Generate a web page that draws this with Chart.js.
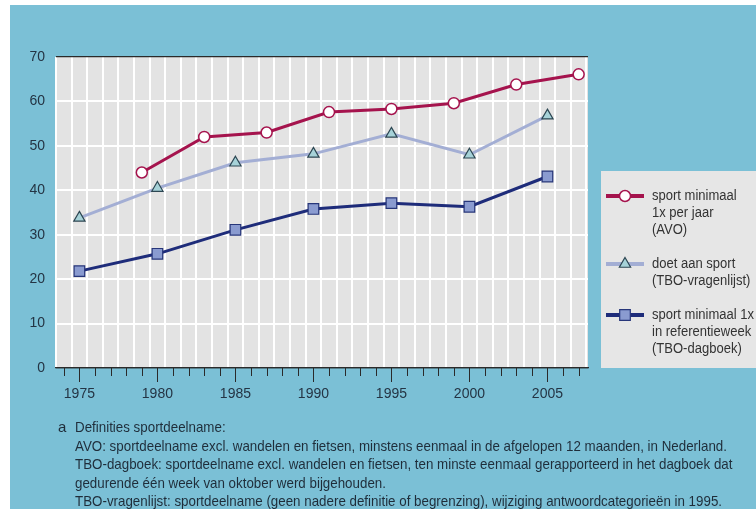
<!DOCTYPE html>
<html>
<head>
<meta charset="utf-8">
<script src="https://cdn.jsdelivr.net/npm/chart.js@4.4.1/dist/chart.umd.min.js"></script>
<style>
  body { margin: 0; background: #fff; width: 756px; height: 509px; overflow: hidden; position: relative;
         font-family: 'Liberation Sans', Arial, sans-serif; }
  #bg { position: absolute; left: 10px; top: 5px; right: 0; bottom: 0; background: #7bc0d6; }
  #chart { position: absolute; left: 0; top: 0; }
  #note { position: absolute; left: 0; top: 418px; font-size: 15px; line-height: 18.6px; color: #1f2d3a; }
  #note .a { position: absolute; left: 58px; top: 0; }
  #note .txt { position: absolute; left: 75px; top: 0; white-space: nowrap; transform-origin: 0 0; }
</style>
</head>
<body>
<div id="bg"></div>
<canvas id="chart" width="756" height="509"></canvas>
<div id="note">
  <span class="a">a</span>
  <div class="txt" id="noteText">
    Definities sportdeelname:<br>
    <span id="longLine">AVO: sportdeelname excl. wandelen en fietsen, minstens eenmaal in de afgelopen 12 maanden, in Nederland.</span><br>
    TBO-dagboek: sportdeelname excl. wandelen en fietsen, ten minste eenmaal gerapporteerd in het dagboek dat<br>
    gedurende één week van oktober werd bijgehouden.<br>
    TBO-vragenlijst: sportdeelname (geen nadere definitie of begrenzing), wijziging antwoordcategorieën in 1995.
  </div>
</div>
<script>
// Sportdeelname (in procenten)
const avoYears = [1979, 1983, 1987, 1991, 1995, 1999, 2003, 2007];
const avoValues = [44, 52, 53, 57.6, 58.3, 59.6, 63.8, 66.1];

const tboYears = [1975, 1980, 1985, 1990, 1995, 2000, 2005];
const vragenlijstValues = [33.8, 40.5, 46.2, 48.2, 52.7, 48, 56.8];
const dagboekValues = [21.8, 25.7, 31.1, 35.8, 37.1, 36.3, 43.1];

const legendLabels = [
  ["sport minimaal", "1x per jaar", "(AVO)"],
  ["doet aan sport", "(TBO-vragenlijst)"],
  ["sport minimaal 1x", "in referentieweek", "(TBO-dagboek)"]
];

const firstYear = 1974;
const lastYear = 2007;
const yMax = 70;

const dark = '#2a2a2a';
const textColor = '#243444';
const fontName = "'Liberation Sans', Arial, sans-serif";

// footnote is set in a condensed face in the original: squeeze it to the same width
const longLine = document.getElementById('longLine');
const squeeze = 652 / longLine.getBoundingClientRect().width;
document.getElementById('noteText').style.transform = 'scaleX(' + squeeze + ')';

function points(xs, ys) {
  return xs.map((x, i) => ({ x: x, y: ys[i] }));
}

// gray plot area
const plotBg = {
  id: 'plotBg',
  beforeDraw(chart) {
    const a = chart.chartArea;
    const ctx = chart.ctx;
    ctx.save();
    ctx.fillStyle = '#e3e3e3';
    ctx.fillRect(a.left, a.top, a.right - a.left, a.bottom - a.top);
    ctx.restore();
  }
};

// short ticks every year, long ones every 5 years
const yearTicks = {
  id: 'yearTicks',
  afterDraw(chart) {
    const sx = chart.scales.x;
    const ctx = chart.ctx;
    const bottom = chart.chartArea.bottom;
    ctx.save();
    ctx.strokeStyle = dark;
    ctx.lineWidth = 1;
    sx.ticks.forEach(t => {
      const px = Math.round(sx.getPixelForValue(t.value)) + 0.5;
      const len = t.value % 5 === 0 ? 14 : 8;
      ctx.beginPath();
      ctx.moveTo(px, bottom);
      ctx.lineTo(px, bottom + len);
      ctx.stroke();
    });
    ctx.restore();
  }
};

// legend in a gray box to the right of the plot
const sideLegend = {
  id: 'sideLegend',
  afterDraw(chart) {
    const ctx = chart.ctx;
    const a = chart.chartArea;
    const left = a.right + 13;
    const top = 171;
    const rowH = 17;
    ctx.save();
    ctx.fillStyle = '#e6e6e6';
    ctx.fillRect(left, top, chart.width - left, a.bottom - top);

    let y = top + 25;
    chart.data.datasets.forEach((ds, i) => {
      const x0 = left + 5, x1 = left + 43, cx = (x0 + x1) / 2;
      ctx.strokeStyle = ds.borderColor;
      ctx.lineWidth = 4;
      ctx.beginPath();
      ctx.moveTo(x0, y);
      ctx.lineTo(x1, y);
      ctx.stroke();
      ctx.fillStyle = ds.pointBackgroundColor;
      ctx.strokeStyle = ds.pointBorderColor;
      ctx.lineWidth = ds.pointBorderWidth;
      Chart.helpers.drawPoint(ctx, {
        pointStyle: ds.pointStyle, radius: ds.pointRadius, borderWidth: ds.pointBorderWidth, rotation: 0
      }, cx, y);

      ctx.fillStyle = '#333';
      ctx.font = '14px ' + fontName;
      ctx.textBaseline = 'middle';
      ctx.textAlign = 'left';
      legendLabels[i].forEach((line, k) => {
        ctx.save();
        ctx.translate(left + 51, y + k * rowH);
        ctx.scale(0.93, 1);
        ctx.fillText(line, 0, 0);
        ctx.restore();
      });
      y += (legendLabels[i].length + 1) * rowH;
    });
    ctx.restore();
  }
};

new Chart(document.getElementById('chart'), {
  type: 'line',
  data: {
    datasets: [
      {
        label: legendLabels[0].join(' '),
        data: points(avoYears, avoValues),
        borderColor: '#a5134d',
        borderWidth: 3,
        pointStyle: 'circle',
        pointRadius: 5.5,
        pointBorderWidth: 1.5,
        pointBackgroundColor: '#ffffff',
        pointBorderColor: '#a5134d'
      },
      {
        label: legendLabels[1].join(' '),
        data: points(tboYears, vragenlijstValues),
        borderColor: '#a3aed4',
        borderWidth: 3,
        pointStyle: 'triangle',
        pointRadius: 6.5,
        pointBorderWidth: 1.2,
        pointBackgroundColor: '#a6d2d8',
        pointBorderColor: '#2c4652'
      },
      {
        label: legendLabels[2].join(' '),
        data: points(tboYears, dagboekValues),
        borderColor: '#1e2c7a',
        borderWidth: 3,
        pointStyle: 'rect',
        pointRadius: 7.5,
        pointBorderWidth: 1.2,
        pointBackgroundColor: '#8a9bd0',
        pointBorderColor: '#27367a'
      }
    ]
  },
  options: {
    responsive: false,
    animation: false,
    devicePixelRatio: 1,
    layout: { padding: { left: 10, top: 57, right: 168, bottom: 111 } },
    plugins: {
      legend: { display: false },
      tooltip: { enabled: false }
    },
    scales: {
      x: {
        type: 'linear',
        min: firstYear - 0.5,
        max: lastYear + 0.6,
        afterBuildTicks(scale) {
          const ticks = [];
          for (let yr = firstYear; yr <= lastYear; yr++) ticks.push({ value: yr });
          scale.ticks = ticks;
        },
        afterFit(scale) { scale.height = 30; },
        grid: { offset: true, color: '#ffffff', lineWidth: 2, drawTicks: false },
        border: { display: true, color: dark, width: 1.2 },
        ticks: {
          autoSkip: false,
          maxRotation: 0,
          padding: 18,
          color: textColor,
          font: { family: fontName, size: 14 },
          callback: v => (v % 5 === 0 ? String(v) : '')
        }
      },
      y: {
        min: 0,
        max: yMax,
        afterFit(scale) { scale.width = 46; },
        grid: {
          color: c => (c.tick.value === 0 || c.tick.value === yMax ? dark : '#ffffff'),
          lineWidth: c => (c.tick.value === 0 || c.tick.value === yMax ? 1.2 : 2),
          drawTicks: false
        },
        border: { display: false },
        ticks: {
          stepSize: 10,
          padding: 11,
          color: textColor,
          font: { family: fontName, size: 14 }
        }
      }
    }
  },
  plugins: [plotBg, yearTicks, sideLegend]
});
</script>
</body>
</html>
